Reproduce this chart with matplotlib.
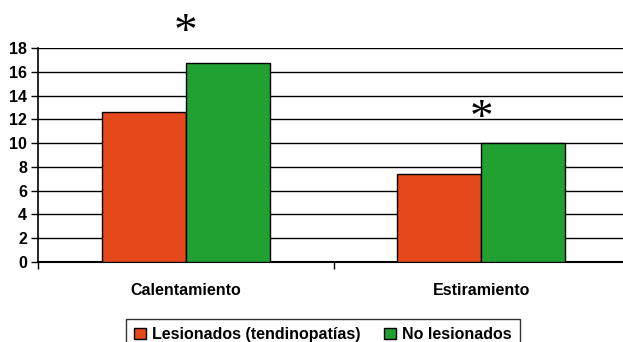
import matplotlib
matplotlib.use("Agg")
import matplotlib.pyplot as plt
import numpy as np

plt.rcParams['font.family'] = ['Liberation Sans', 'DejaVu Sans']

categories = ["Calentamiento", "Estiramiento"]
series_names = ["Lesionados (tendinopatías)", "No lesionados"]
lesionados = [12.6, 7.4]
no_lesionados = [16.7, 10.0]
yticks = [0, 2, 4, 6, 8, 10, 12, 14, 16, 18]
asterisk_y = [20.2, 13.0]

colors = ["#E5481A", "#21A132"]

W, H = 623, 342
fig = plt.figure(figsize=(W / 100, H / 100), dpi=100)
ax = fig.add_axes([38 / W, 1 - 262 / H, 591 / W, 214 / H])

x = np.arange(len(categories))
bw = 0.285
ax.bar(x - bw / 2, lesionados, bw, color=colors[0], edgecolor="black",
       linewidth=1, label=series_names[0], zorder=3)
ax.bar(x + bw / 2, no_lesionados, bw, color=colors[1], edgecolor="black",
       linewidth=1, label=series_names[1], zorder=3)

# significance markers above each group (glyph centred on asterisk_y)
for xi, yi in zip(x, asterisk_y):
    ax.annotate("*", xy=(xi, yi), xytext=(0, -17), textcoords="offset points",
                ha="center", va="baseline", fontsize=34,
                family="Liberation Serif", annotation_clip=False)

ax.set_xlim(-0.5, 1.5)
ax.set_ylim(0, 18)
ax.set_yticks(yticks)
ax.set_yticklabels([str(v) for v in yticks], fontsize=11.5, fontweight="bold")
ax.yaxis.grid(True, color="black", linewidth=1, zorder=0)
ax.set_axisbelow(True)

ax.set_xticks([-0.5, 0.5, 1.5])
ax.set_xticklabels([])
ax.set_xticks(x, minor=True)
ax.set_xticklabels(categories, minor=True, fontsize=11.5, fontweight="bold")
ax.tick_params(axis="x", which="minor", length=0, pad=15)
ax.tick_params(axis="x", which="major", length=5, width=1)
ax.tick_params(axis="y", length=5, width=1, pad=3)

for s in ["top", "right"]:
    ax.spines[s].set_visible(False)
ax.spines["left"].set_linewidth(1.2)
ax.spines["bottom"].set_linewidth(1.5)

leg = fig.legend(loc="upper center", bbox_to_anchor=(323 / W, 1 - 311 / H),
                 ncol=2, frameon=True, fancybox=False, edgecolor="black",
                 prop={"weight": "bold", "size": 11.5}, handlelength=0.7,
                 handleheight=0.7, handletextpad=0.4, columnspacing=1.5,
                 borderpad=0.5)
leg.get_frame().set_linewidth(1)

fig.savefig("out.png", dpi=100)
